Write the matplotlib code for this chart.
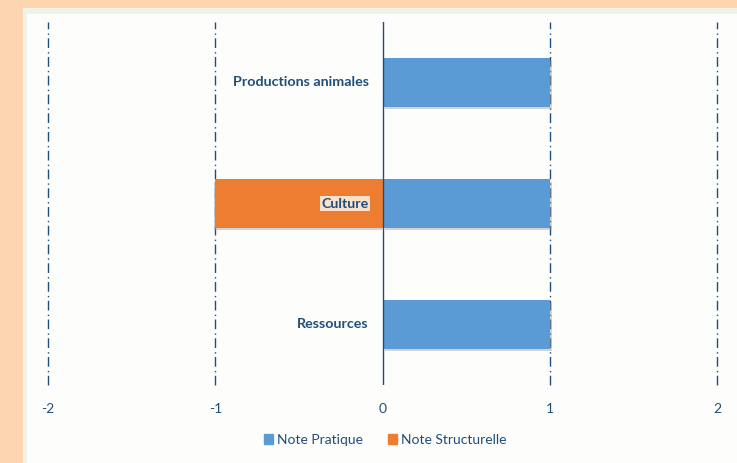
import numpy as np
import matplotlib.pyplot as plt
from matplotlib.patches import Rectangle

# Chart data
categories = ['Ressources', 'Culture', 'Productions animales']
note_pratique = [1, 1, 1]
note_structurelle = [0, -1, 0]
x_ticks = [-2, -1, 0, 1, 2]

blue = '#5B9BD5'
orange = '#ED7D31'
text_col = '#1F4E79'

plt.rcParams['font.family'] = ['Lato', 'DejaVu Sans']

fig = plt.figure(figsize=(7.37, 4.63), dpi=100)
fig.patch.set_facecolor('#FDD5B1')
# white panel with soft light green rim
fig.patches.append(Rectangle((23 / 737, -0.01), 1, 1 - 3 / 463,
                             transform=fig.transFigure, facecolor='#EEF5E8',
                             edgecolor='none', zorder=-11))
fig.patches.append(Rectangle((27 / 737, -0.01), 1, 1 - 9 / 463,
                             transform=fig.transFigure, facecolor='#FDFEFB',
                             edgecolor='none', zorder=-10))

ax = fig.add_axes([48 / 737, 1 - 385 / 463, 669 / 737, 363 / 463])
ax.set_facecolor('none')
ax.set_zorder(5)

y = np.arange(len(categories))
h = 0.4
ax.barh(y, note_pratique, height=h, color=blue, zorder=3)
ax.barh(y, note_structurelle, height=h, color=orange, zorder=3)

# soft shadow under bars
for v in (note_pratique, note_structurelle):
    for yi, val in zip(y, v):
        if val != 0:
            ax.barh(yi - 0.02, val, height=h, left=0.012 if val > 0 else -0.005,
                    color='#a0a0a0', alpha=0.45, zorder=2)

ax.set_xlim(-2, 2)
ax.set_ylim(-0.5, 2.5)

for xv in x_ticks:
    if xv != 0:
        ax.axvline(xv, color=text_col, linewidth=1, linestyle=(0, (7, 2.5, 1, 3)),
                   zorder=1, clip_on=False)
ax.axvline(0, color=text_col, linewidth=1, zorder=4)

for yi, cat in zip(y, categories):
    kw = {}
    if cat == 'Culture':
        kw['bbox'] = dict(boxstyle='square,pad=0.1', facecolor='#FBE0CC', edgecolor='none')
    ax.annotate(cat, xy=(0, yi), xytext=(-10, 0), textcoords='offset points',
                ha='right', va='center', fontsize=10.3, fontweight='bold',
                color=text_col, zorder=5, **kw)

ax.set_xticks(x_ticks)
ax.set_xticklabels([str(t) for t in x_ticks])
ax.tick_params(axis='x', length=0, pad=13, labelsize=10, labelcolor=text_col)
ax.set_yticks([])
for s in ax.spines.values():
    s.set_visible(False)

handles = [Rectangle((0, 0), 1, 1, color=blue), Rectangle((0, 0), 1, 1, color=orange)]
fig.legend(handles, ['Note Pratique', 'Note Structurelle'], loc='center',
           bbox_to_anchor=(385 / 737, 1 - 440 / 463), ncol=2, frameon=False,
           fontsize=10, labelcolor=text_col, handlelength=0.65, handleheight=0.65,
           handletextpad=0.3, columnspacing=1.8)

fig.savefig('out.png', dpi=100, facecolor=fig.get_facecolor())
